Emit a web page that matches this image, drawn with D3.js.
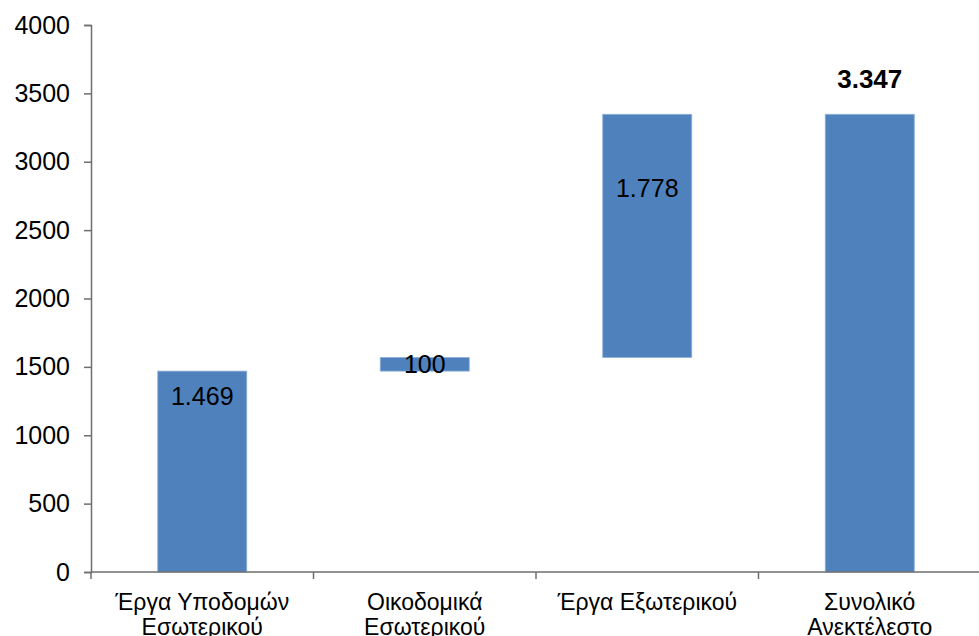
<!DOCTYPE html>
<html><head><meta charset="utf-8">
<script src="https://cdn.jsdelivr.net/npm/d3@7"></script>
<style>body{margin:0;background:#fff;}svg{display:block;font-family:"Liberation Sans",Arial,sans-serif;}</style>
</head><body>
<svg id="c" width="979" height="636"></svg>
<script>
const categories = [["Έργα Υποδομών","Εσωτερικού"],["Οικοδομικά","Εσωτερικού"],["Έργα Εξωτερικού"],["Συνολικό","Ανεκτέλεστο"]];
const values = [1469, 100, 1778, 3347];
const isTotal = [false, false, false, true];
const yTicks = [0,500,1000,1500,2000,2500,3000,3500,4000];

(function(){
const svg = d3.select("#c");
const mLeft = 91, mRight = 981, mTop = 25, mBottom = 572;
const x = d3.scaleBand().domain(d3.range(values.length)).range([mLeft, mRight]).paddingInner(0.6).paddingOuter(0.3);
const xEdge = d3.scaleLinear().domain([0, values.length]).range([mLeft, mRight]);
const y = d3.scaleLinear().domain([0, 4000]).range([mBottom, mTop]);

let run = 0;
const bars = values.map((v, i) => {
  let b0, b1;
  if (isTotal[i]) { b0 = 0; b1 = v; run = v; }
  else { b0 = run; b1 = run + v; run = b1; }
  return {i, v, b0, b1, total: isTotal[i]};
});

const fmt = d3.formatLocale({decimal: ",", thousands: ".", grouping: [3], currency: ["", "€"]}).format(",d");

svg.selectAll("rect.bar").data(bars).join("rect")
  .attr("x", d => x(d.i)).attr("width", x.bandwidth())
  .attr("y", d => y(d.b1)).attr("height", d => y(d.b0) - y(d.b1))
  .attr("fill", "#4F81BD").attr("stroke", "#8DB0DA").attr("stroke-width", 0.8);

const yAxis = d3.axisLeft(y).tickValues(yTicks).tickSize(7).tickPadding(14).tickFormat(d3.format("d"));
const gy = svg.append("g").attr("transform", `translate(${mLeft},0)`).call(yAxis);
gy.select(".domain").attr("stroke", "#6e6e6e").attr("stroke-width", 1.5);
gy.selectAll(".tick line").attr("stroke", "#6e6e6e").attr("stroke-width", 1.5);
gy.selectAll(".tick text").attr("font-size", 25).attr("fill", "#000").attr("font-family", "Liberation Sans, Arial, sans-serif");

svg.append("line").attr("x1", mLeft).attr("x2", mRight).attr("y1", mBottom).attr("y2", mBottom)
  .attr("stroke", "#6e6e6e").attr("stroke-width", 1.5);
svg.selectAll("line.xt").data(d3.range(values.length + 1)).join("line")
  .attr("x1", d => xEdge(d)).attr("x2", d => xEdge(d)).attr("y1", mBottom).attr("y2", mBottom + 7)
  .attr("stroke", "#6e6e6e").attr("stroke-width", 1.5);

const cl = svg.selectAll("text.cat").data(categories).join("text")
  .attr("text-anchor", "middle").attr("font-size", 23).attr("fill", "#000")
  .attr("transform", (d, i) => `translate(${x(i) + x.bandwidth()/2},610)`);
cl.selectAll("tspan").data(d => d).join("tspan")
  .attr("x", 0).attr("dy", (d, j) => j === 0 ? 0 : 25).text(d => d);

const lblOffset = [25, 0, 74, -36];
svg.selectAll("text.val").data(bars).join("text")
  .attr("x", d => x(d.i) + x.bandwidth()/2)
  .attr("y", d => (d.i === 1 ? (y(d.b0) + y(d.b1)) / 2 : y(d.b1)) + lblOffset[d.i])
  .attr("dy", "0.36em")
  .attr("text-anchor", "middle").attr("font-size", d => d.total ? 26 : 25)
  .attr("font-weight", d => d.total ? "bold" : "normal")
  .attr("fill", "#000").text(d => fmt(d.v));
})();
</script>
</body></html>
